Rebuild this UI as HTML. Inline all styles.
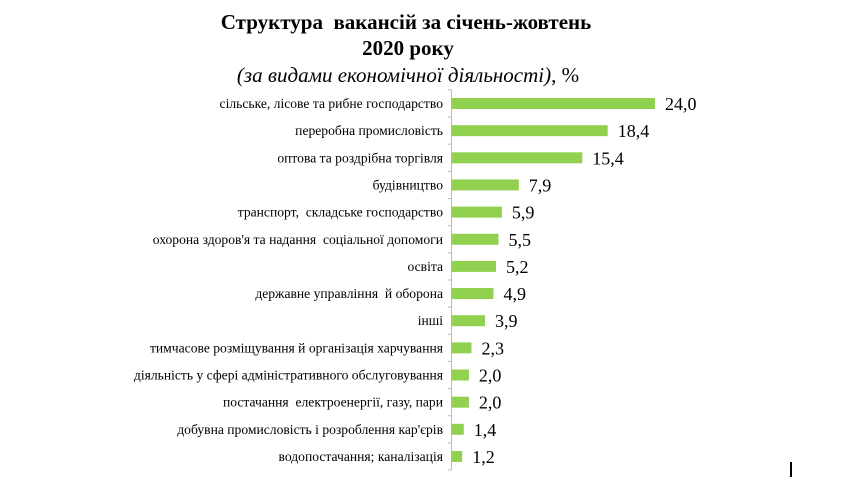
<!DOCTYPE html>
<html><head><meta charset="utf-8"><style>
body{margin:0;background:#fff;}
svg{display:block;font-family:"Liberation Serif",serif;}
text{white-space:pre;}
</style></head><body>
<svg width="859" height="479" viewBox="0 0 859 479">
<text x="406" y="29" text-anchor="middle" font-size="21" font-weight="bold">Структура  вакансій за січень-жовтень</text>
<text x="408" y="55" text-anchor="middle" font-size="21" font-weight="bold">2020 року</text>
<text x="408" y="82" text-anchor="middle" font-size="21" font-style="italic">(за видами економічної діяльності)<tspan font-style="normal">, %</tspan></text>
<g id="c"></g>
<rect x="790" y="462" width="2" height="15" fill="#000"/>
</svg>
<script>
var d=[["сільське, лісове та рибне господарство",24.0],["переробна промисловість",18.4],["оптова та роздрібна торгівля",15.4],["будівництво",7.9],["транспорт,  складське господарство",5.9],["охорона здоров'я та надання  соціальної допомоги",5.5],["освіта",5.2],["державне управління  й оборона",4.9],["інші",3.9],["тимчасове розміщування й організація харчування",2.3],["діяльність у сфері адміністративного обслуговування",2.0],["постачання  електроенергії, газу, пари",2.0],["добувна промисловість і розроблення кар'єрів",1.4],["водопостачання; каналізація",1.2]];
var s='',sp=27.15,y0=103.5;
s+='<line x1="451.5" y1="90" x2="451.5" y2="470" stroke="#bbb" stroke-width="1"/>';
for(var i=0;i<=14;i++){var ty=(y0-sp/2+i*sp).toFixed(1);s+='<line x1="448" y1="'+ty+'" x2="451.5" y2="'+ty+'" stroke="#bbb"/>';}
d.forEach(function(r,i){var c=y0+i*sp,w=r[1]*8.46;
s+='<rect x="452" y="'+(c-5.5)+'" width="'+w.toFixed(1)+'" height="11" fill="#92d050"/>';
s+='<text x="443" y="'+(c+4.5)+'" text-anchor="end" font-size="13.6">'+r[0]+'</text>';
s+='<text x="'+(452+w+10).toFixed(1)+'" y="'+(c+6.5)+'" font-size="18">'+r[1].toFixed(1).replace('.',',')+'</text>';});
document.getElementById('c').innerHTML=s;
</script>
</body></html>
